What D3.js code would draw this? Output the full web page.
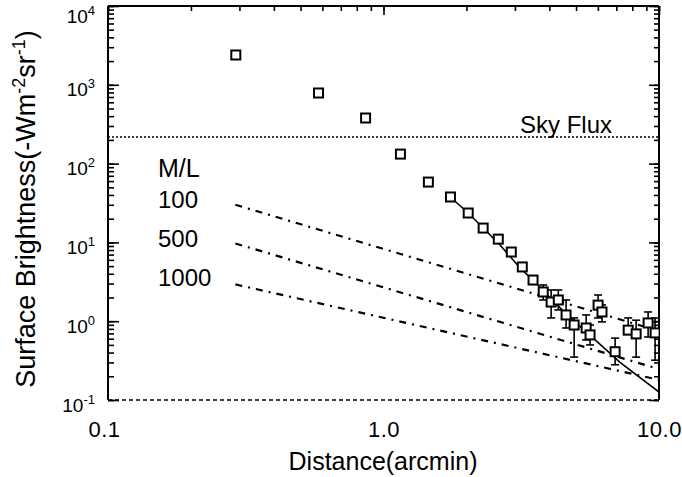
<!DOCTYPE html>
<html><head><meta charset="utf-8">
<script src="https://cdn.jsdelivr.net/npm/d3@7"></script>
<style>body{margin:0;background:#fff}text{font-family:"Liberation Sans",Arial,sans-serif;fill:#000}</style>
</head><body><svg id="c" width="682" height="477"></svg>
<script>
// ---- data ----
const distance   = [0.291,0.581,0.861,1.152,1.455,1.75,2.03,2.30,2.61,2.91,3.19,3.49,3.80,4.06,4.31,4.60,4.92,5.44,5.62,6.01,6.21,6.93,7.73,8.26,9.13,9.68];
const brightness = [2390,787,379,132,58.3,37.7,23.6,15.2,11.0,7.55,4.88,3.33,2.35,1.75,1.86,1.20,0.895,0.82,0.67,1.60,1.31,0.41,0.77,0.69,0.95,0.71];
const errLow     = [null,null,null,null,null,null,null,null,null,null,null,null,1.86,1.10,1.39,0.82,0.35,0.58,0.50,1.10,0.98,0.28,0.73,0.35,0.63,0.32];
const errHigh    = [null,null,null,null,null,null,null,null,null,null,null,null,2.88,2.49,2.49,1.86,1.10,1.20,0.895,2.15,1.61,0.61,1.10,1.03,1.31,1.10];
const modelDistance   = [1.73,2.03,2.32,2.65,3.13,3.55,4.03,4.76,5.77,7.22,10];
const modelBrightness = [38.8,23.6,14.8,9.27,4.73,3.14,1.97,1.10,0.61,0.30,0.126];
const mlDistance = [0.29,10];
const ml100  = [30,0.75];
const ml500  = [9.7,0.247];
const ml1000 = [2.93,0.18];
const mlLabels = ["100","500","1000"];
const skyFlux = 218;
const xTicks = [0.1,1,10];
const xTickLabels = ["0.1","1.0","10.0"];
const yTicks = [0.1,1,10,100,1000,10000];
const yTickExp = ["-1","0","1","2","3","4"];

// ---- chart ----
const svg = d3.select("#c");
const x = d3.scaleLog().domain([0.1,10]).range([108,659]);
const y = d3.scaleLog().domain([0.1,10000]).range([400,6]);
const [X0,X1] = x.range(), [Y0,Y1] = y.range();

svg.append("defs").append("clipPath").attr("id","clip")
  .append("rect").attr("x",X0).attr("y",Y1).attr("width",X1-X0).attr("height",Y0-Y1);

const xMinor = x.ticks();
const yMinor = y.ticks(10);

function ax(g, axis){ g.call(axis); g.select(".domain").remove(); g.selectAll("line").attr("stroke","#000").attr("stroke-width",1.6); return g; }

// top axis ticks (inward)
ax(svg.append("g").attr("transform",`translate(0,${Y1})`), d3.axisTop(x).tickValues(xMinor).tickSize(-5).tickFormat(""));
ax(svg.append("g").attr("transform",`translate(0,${Y1})`), d3.axisTop(x).tickValues(xTicks).tickSize(-9).tickFormat(""));
// left axis
ax(svg.append("g").attr("transform",`translate(${X0},0)`), d3.axisLeft(y).tickValues(yMinor).tickSize(-6).tickFormat(""));
const gl = ax(svg.append("g").attr("transform",`translate(${X0},0)`), d3.axisLeft(y).tickValues(yTicks).tickSize(-11).tickPadding(13).tickFormat(""));
gl.selectAll("text").each(function(d,i){
  const t = d3.select(this).attr("font-size",19).attr("dy", d===10000 ? "0.85em" : "0.58em").attr("font-family",null);
  t.text(null);
  t.append("tspan").text("10");
  t.append("tspan").attr("dy",-8).attr("font-size",13).text(yTickExp[i]);
});
// right axis
ax(svg.append("g").attr("transform",`translate(${X1},0)`), d3.axisRight(y).tickValues(yMinor).tickSize(-5).tickFormat(""));
ax(svg.append("g").attr("transform",`translate(${X1},0)`), d3.axisRight(y).tickValues(yTicks).tickSize(-10).tickFormat(""));
// bottom axis labels
const gb = svg.append("g").attr("transform",`translate(0,${Y0})`)
  .call(d3.axisBottom(x).tickValues(xTicks).tickSize(0).tickPadding(21).tickFormat((d,i)=>xTickLabels[i]));
gb.select(".domain").remove();
gb.selectAll("text").attr("font-size",22).attr("font-family",null).attr("letter-spacing",0.5)
  .attr("dx",d=>d===0.1?-4:0);

// frame
svg.append("line").attr("x1",X0).attr("x2",X1).attr("y1",Y1).attr("y2",Y1).attr("stroke","#000").attr("stroke-width",2);
svg.append("line").attr("x1",X0).attr("x2",X0).attr("y1",Y1).attr("y2",Y0).attr("stroke","#000").attr("stroke-width",2);
svg.append("line").attr("x1",X1).attr("x2",X1).attr("y1",Y1).attr("y2",Y0).attr("stroke","#000").attr("stroke-width",2);
svg.append("line").attr("x1",X0).attr("x2",X1).attr("y1",Y0).attr("y2",Y0).attr("stroke","#000").attr("stroke-width",1.5).attr("stroke-dasharray","4,3");

const plot = svg.append("g").attr("clip-path","url(#clip)");
// sky flux
plot.append("line").attr("x1",X0).attr("x2",X1).attr("y1",y(skyFlux)).attr("y2",y(skyFlux))
  .attr("stroke","#000").attr("stroke-width",1.5).attr("stroke-dasharray","2,2");
// M/L lines
const line = d3.line().x(d=>x(d[0])).y(d=>y(d[1]));
[ml100,ml500,ml1000].forEach(arr=>{
  plot.append("path").attr("d",line(mlDistance.map((d,i)=>[d,arr[i]])))
    .attr("fill","none").attr("stroke","#000").attr("stroke-width",2.2).attr("stroke-dasharray","7,6,2,6");
});
// model curve
plot.append("path").attr("d",line(modelDistance.map((d,i)=>[d,modelBrightness[i]])))
  .attr("fill","none").attr("stroke","#000").attr("stroke-width",1.6);
// error bars
const pts = distance.map((d,i)=>({x:d,y:brightness[i],lo:errLow[i],hi:errHigh[i]}));
const eb = plot.selectAll("g.eb").data(pts.filter(p=>p.lo!=null)).join("g").attr("stroke","#000").attr("stroke-width",1.6);
eb.append("line").attr("x1",p=>x(p.x)).attr("x2",p=>x(p.x)).attr("y1",p=>y(p.lo)).attr("y2",p=>y(p.hi));
eb.append("line").attr("x1",p=>x(p.x)-4).attr("x2",p=>x(p.x)+4).attr("y1",p=>y(p.lo)).attr("y2",p=>y(p.lo));
eb.append("line").attr("x1",p=>x(p.x)-4).attr("x2",p=>x(p.x)+4).attr("y1",p=>y(p.hi)).attr("y2",p=>y(p.hi));
// squares
const s = 9;
plot.selectAll("rect.pt").data(pts).join("rect")
  .attr("x",p=>x(p.x)-s/2).attr("y",p=>y(p.y)-s/2).attr("width",s).attr("height",s)
  .attr("fill","#fff").attr("stroke","#000").attr("stroke-width",2);

// texts
svg.append("text").attr("x",520).attr("y",133).attr("font-size",24).text("Sky Flux");
svg.append("text").attr("x",158).attr("y",177).attr("font-size",25).text("M/L");
const mlY = [208,247,286];
mlLabels.forEach((t,i)=>svg.append("text").attr("x",158).attr("y",mlY[i]).attr("font-size",24).text(t));

svg.append("text").attr("x",383).attr("y",470).attr("text-anchor","middle").attr("font-size",25).text("Distance(arcmin)");
const yl = svg.append("text").attr("transform","translate(35,209) rotate(-90)").attr("text-anchor","middle").attr("font-size",27);
yl.append("tspan").text("Surface Brightness(-Wm");
yl.append("tspan").attr("dy",-10).attr("font-size",18).text("-2");
yl.append("tspan").attr("dy",10).text("sr");
yl.append("tspan").attr("dy",-10).attr("font-size",18).text("-1");
yl.append("tspan").attr("dy",10).text(")");
</script></body></html>
